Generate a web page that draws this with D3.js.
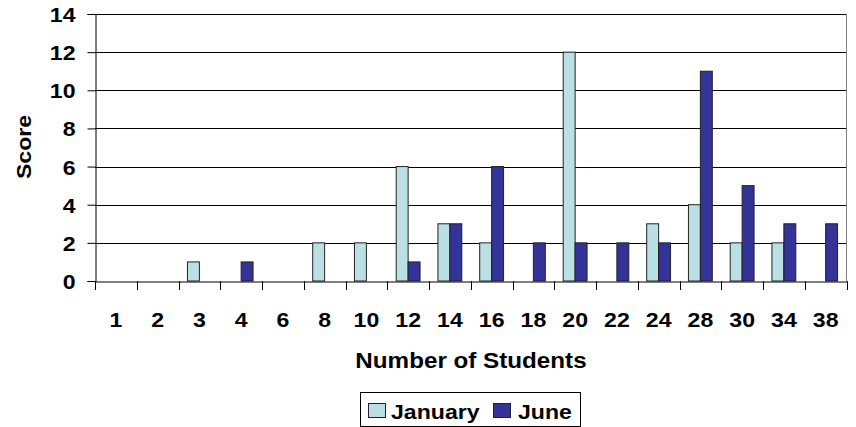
<!DOCTYPE html>
<html>
<head>
<meta charset="utf-8">
<script src="https://d3js.org/d3.v7.min.js"></script>
<style>
  body { margin: 0; background: #fff; }
  text { font-family: Arial, "Liberation Sans", sans-serif; font-weight: bold; fill: #000; }
</style>
</head>
<body>
<div id="chart"></div>
<script>
// chart data
var students = ["1", "2", "3", "4", "6", "8", "10", "12", "14", "16", "18", "20", "22", "24", "28", "30", "34", "38"];
var january  = [0, 0, 1, 0, 0, 2, 2, 6, 3, 2, 0, 12, 0, 3, 4, 2, 2, 0];
var june     = [0, 0, 0, 1, 0, 0, 0, 1, 3, 6, 2, 2, 2, 2, 11, 5, 3, 3];
var seriesNames = ["January", "June"];
var seriesColors = ["#BBE0E3", "#333399"];
var yTicks = [0, 2, 4, 6, 8, 10, 12, 14];

var W = 856, H = 427;
var pLeft = 95, pRight = 846.5, pTop = 14, pBottom = 281;

// the original text is a bit wider than Liberation Sans, stretch it
function stretch(sel, k) {
  sel.each(function () {
    var len = this.getComputedTextLength();
    d3.select(this).attr("textLength", len * k).attr("lengthAdjust", "spacingAndGlyphs");
  });
}

var svg = d3.select("#chart").append("svg")
  .attr("width", W).attr("height", H);

var x0 = d3.scaleBand().domain(students).range([pLeft, pRight]);
var bw = x0.bandwidth();
var barW = bw / 3.5;   // gap width 150%
var x1 = d3.scaleBand().domain(seriesNames)
  .range([barW * 0.75, bw - barW * 0.75]);
var y = d3.scaleLinear().domain([0, 14]).range([pBottom, pTop]);

// gridlines
svg.append("g").selectAll("line")
  .data(yTicks.filter(function (d) { return d > 0; }))
  .enter().append("line")
  .attr("x1", pLeft).attr("x2", pRight)
  .attr("y1", function (d) { return Math.round(y(d)) + 0.5; })
  .attr("y2", function (d) { return Math.round(y(d)) + 0.5; })
  .attr("stroke", "#000").attr("stroke-width", 1);

// right border of plot area
svg.append("line")
  .attr("x1", pRight).attr("x2", pRight).attr("y1", pTop).attr("y2", pBottom)
  .attr("stroke", "#808080");

// bars
var rows = students.map(function (s, i) {
  return { cat: s, values: [january[i], june[i]] };
});
var groups = svg.append("g").selectAll("g")
  .data(rows).enter().append("g")
  .attr("transform", function (d) { return "translate(" + x0(d.cat) + ",0)"; });
groups.selectAll("rect")
  .data(function (d) {
    return d.values.map(function (v, k) { return { name: seriesNames[k], v: v, k: k }; })
      .filter(function (e) { return e.v > 0; });
  })
  .enter().append("rect")
  .attr("x", function (d) { return x1(d.name); })
  .attr("width", x1.bandwidth())
  .attr("y", function (d) { return y(d.v); })
  .attr("height", function (d) { return y(0) - y(d.v); })
  .attr("fill", function (d) { return seriesColors[d.k]; })
  .attr("stroke", "#222").attr("stroke-width", 1);

// y axis
var yAxis = d3.axisLeft(y).tickValues(yTicks).tickSize(8).tickPadding(8);
var gy = svg.append("g").attr("transform", "translate(" + (pLeft + 0.5) + ",0)").call(yAxis);
gy.select(".domain").attr("stroke", "#000");
gy.selectAll(".tick line").attr("stroke", "#000");
gy.selectAll("text").style("font-size", "21px").attr("dx", "-4").attr("dy", "0.36em");
stretch(gy.selectAll("text"), 1.1);

// x axis
var xAxis = d3.axisBottom(x0).tickSize(0).tickPadding(0);
var gx = svg.append("g").attr("transform", "translate(0," + (pBottom + 0.5) + ")").call(xAxis);
gx.select(".domain").attr("stroke", "#000");
gx.selectAll("text").style("font-size", "21px").attr("y", 31);
stretch(gx.selectAll("text"), 1.1);
// category separator ticks
svg.append("g").selectAll("line")
  .data(d3.range(students.length + 1))
  .enter().append("line")
  .attr("x1", function (i) { return Math.round(pLeft + i * bw) + 0.5; })
  .attr("x2", function (i) { return Math.round(pLeft + i * bw) + 0.5; })
  .attr("y1", pBottom).attr("y2", pBottom + 9)
  .attr("stroke", "#000");

// axis titles
var xt = svg.append("text")
  .attr("x", 471).attr("y", 368)
  .attr("text-anchor", "middle").style("font-size", "22px")
  .text("Number of Students");
stretch(xt, 1.1);
var yt = svg.append("text")
  .attr("transform", "translate(31,147) rotate(-90)")
  .attr("text-anchor", "middle").style("font-size", "21px")
  .text("Score");
stretch(yt, 1.1);

// legend
var lg = svg.append("g");
lg.append("rect")
  .attr("x", 360.5).attr("y", 392.5).attr("width", 220).attr("height", 34)
  .attr("fill", "#fff").attr("stroke", "#000");
var items = [{ x: 368, tx: 391 }, { x: 493, tx: 518 }];
seriesNames.forEach(function (n, k) {
  lg.append("rect")
    .attr("x", items[k].x + 0.5).attr("y", 403.5).attr("width", 17).attr("height", 14)
    .attr("fill", seriesColors[k]).attr("stroke", "#222");
  var t = lg.append("text")
    .attr("x", items[k].tx).attr("y", 419)
    .style("font-size", "21px")
    .text(n);
  stretch(t, 1.1);
});
</script>
</body>
</html>
